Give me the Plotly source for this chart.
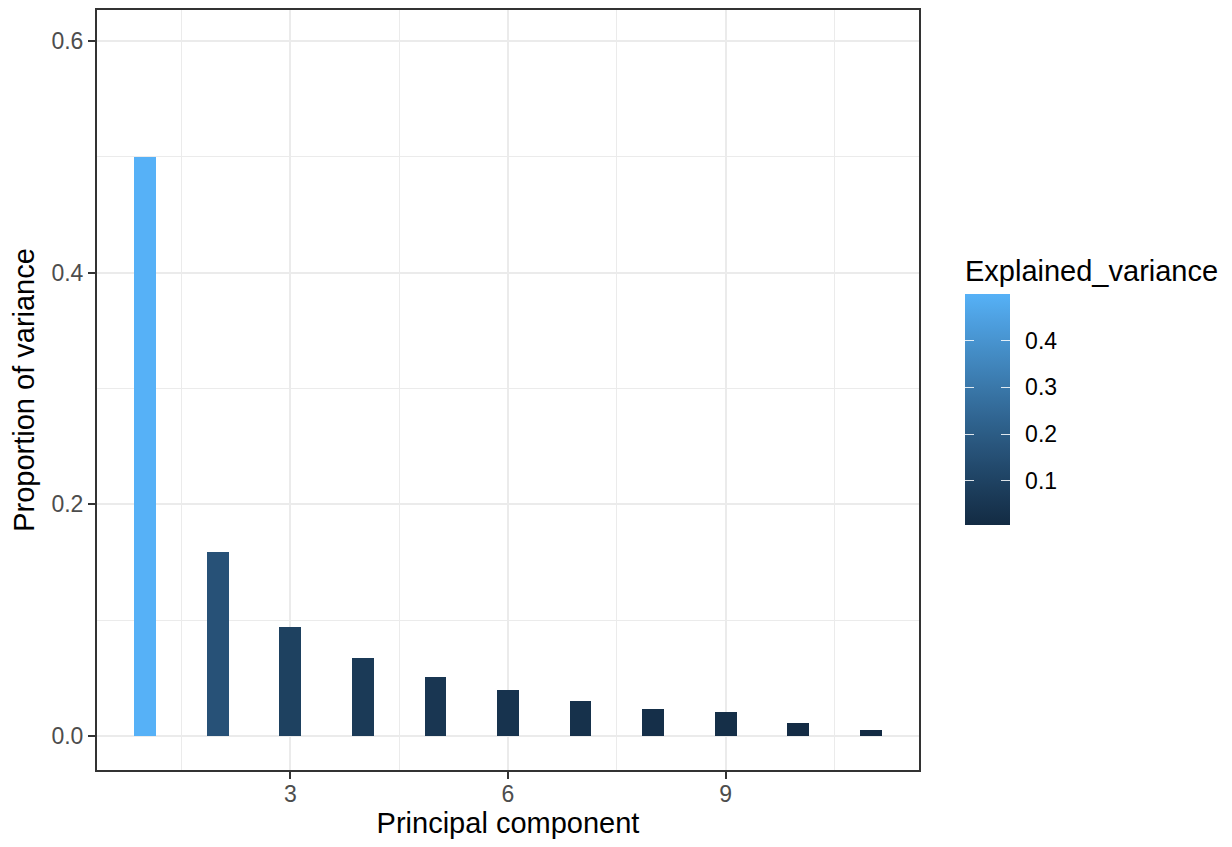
import numpy as np
import plotly.graph_objects as go

# ---- data ----
components = [1, 2, 3, 4, 5, 6, 7, 8, 9, 10, 11]
explained_variance = [0.500, 0.159, 0.094, 0.067, 0.051, 0.040, 0.030, 0.023, 0.021, 0.011, 0.005]
x_ticks = [3, 6, 9]
y_ticks = [0.0, 0.2, 0.4, 0.6]
cbar_ticks = [0.1, 0.2, 0.3, 0.4]

# ---- ggplot2 default continuous gradient (#132B43 -> #56B1F7, Lab interpolation) ----
def _srgb_to_lin(c):
    c = np.asarray(c, float)
    return np.where(c <= 0.04045, c / 12.92, ((c + 0.055) / 1.055) ** 2.4)

def _lin_to_srgb(c):
    c = np.clip(c, 0, 1)
    return np.where(c <= 0.0031308, 12.92 * c, 1.055 * c ** (1 / 2.4) - 0.055)

M = np.array([[0.4124, 0.3576, 0.1805], [0.2126, 0.7152, 0.0722], [0.0193, 0.1192, 0.9505]])
Minv = np.linalg.inv(M)
WHITE = np.array([0.95047, 1.0, 1.08883])

def _f(t):
    d = 6 / 29
    return np.where(t > d ** 3, np.cbrt(t), t / (3 * d * d) + 4 / 29)

def _finv(t):
    d = 6 / 29
    return np.where(t > d, t ** 3, 3 * d * d * (t - 4 / 29))

def hex_to_lab(h):
    rgb = np.array([int(h[i:i + 2], 16) / 255 for i in (1, 3, 5)])
    xyz = M @ _srgb_to_lin(rgb) / WHITE
    fx, fy, fz = _f(xyz)
    return np.array([116 * fy - 16, 500 * (fx - fy), 200 * (fy - fz)])

def lab_to_hex(lab):
    L, a, b = lab
    fy = (L + 16) / 116
    fx = fy + a / 500
    fz = fy - b / 200
    xyz = _finv(np.array([fx, fy, fz])) * WHITE
    rgb = _lin_to_srgb(Minv @ xyz)
    return "#%02x%02x%02x" % tuple(int(round(v * 255)) for v in rgb)

lo, hi = hex_to_lab("#132B43"), hex_to_lab("#56B1F7")
colorscale = [[t, lab_to_hex(lo + (hi - lo) * t)] for t in np.linspace(0, 1, 21)]

FONT = "Liberation Sans, Arial, Helvetica, sans-serif"
GRID = "#EBEBEB"
CMIN, CMAX = min(explained_variance), max(explained_variance)

# layout geometry (pixels, in screen coordinates); the page body adds an 8px offset
OFF = 8
W, H = 1232 - OFF, 847 - OFF
PANEL_L, PANEL_R, PANEL_T, PANEL_B = 97, 919, 10, 770
ML, MT = PANEL_L - OFF, PANEL_T - OFF
MR = W - (PANEL_R - OFF)
MB = H - (PANEL_B - OFF)
PW, PH = W - ML - MR, H - MT - MB
def px_x(px):
    return (px - PANEL_L) / PW
def px_y(py):
    return 1 - (py - PANEL_T) / PH

CB_X = px_x(965)
CB_Y = px_y(294)
CB_LEN = 231

def cbar(thickness, **kw):
    base = dict(
        thickness=thickness, thicknessmode="pixels",
        len=CB_LEN, lenmode="pixels",
        x=CB_X, xanchor="left", y=CB_Y, yanchor="top",
        xpad=0, ypad=0, outlinewidth=0,
        tickmode="array", tickvals=cbar_ticks,
    )
    base.update(kw)
    return base

fig = go.Figure()
fig.add_trace(go.Bar(
    x=components,
    y=explained_variance,
    width=0.3,
    marker=dict(
        color=explained_variance,
        colorscale=colorscale, cmin=CMIN, cmax=CMAX,
        line=dict(width=0),
        colorbar=cbar(
            45,
            ticktext=[f"{v:.1f}" for v in cbar_ticks],
            ticks="outside", ticklen=11, tickwidth=1, tickcolor="rgba(0,0,0,0)",
            tickfont=dict(family=FONT, size=23, color="black"),
        ),
    ),
    showlegend=False,
))

# overlay colour bars (same scale) that only add the white inside tick marks on both edges
for thick in (45, 9):
    fig.add_trace(go.Scatter(
        x=components, y=explained_variance, mode="markers",
        marker=dict(color=explained_variance, colorscale=colorscale, cmin=CMIN, cmax=CMAX,
                    opacity=0, size=1, showscale=True,
                    colorbar=cbar(thick, ticks="inside", ticklen=9, tickwidth=1.2,
                                  tickcolor="rgba(255,255,255,0.85)", showticklabels=False)),
        hoverinfo="skip", showlegend=False,
    ))

fig.add_annotation(
    text="Explained_variance", xref="paper", yref="paper",
    x=px_x(963), y=px_y(271), xanchor="left", yanchor="middle",
    showarrow=False, font=dict(family=FONT, size=29, color="black"),
)

fig.update_layout(
    width=W, height=H,
    margin=dict(l=ML, r=MR, t=MT, b=MB, autoexpand=False),
    paper_bgcolor="white",
    plot_bgcolor="white",
    font=dict(family=FONT),
    bargap=0,
)

fig.update_xaxes(
    range=[0.335, 11.665],
    tickmode="array", tickvals=x_ticks,
    ticktext=[str(v) for v in x_ticks],
    showgrid=True, gridcolor=GRID, gridwidth=2.2,
    minor=dict(tickmode="array", tickvals=[1.5, 4.5, 7.5, 10.5],
               showgrid=True, gridcolor=GRID, gridwidth=1.2, ticks=""),
    zeroline=False, automargin=False,
    showline=True, mirror=True, linecolor="#333333", linewidth=2,
    ticks="outside", ticklen=7, tickwidth=2, tickcolor="#333333",
    tickfont=dict(family=FONT, size=23, color="#4D4D4D"),
    ticklabelstandoff=-5,
    title=dict(text="Principal component", font=dict(family=FONT, size=29, color="black"),
               standoff=4),
)

fig.update_yaxes(
    range=[-0.0294, 0.6268],
    tickmode="array", tickvals=y_ticks,
    ticktext=[f"{v:.1f}" for v in y_ticks],
    showgrid=True, gridcolor=GRID, gridwidth=2.2,
    minor=dict(tickmode="array", tickvals=[0.1, 0.3, 0.5],
               showgrid=True, gridcolor=GRID, gridwidth=1.2, ticks=""),
    zeroline=False, automargin=False,
    showline=True, mirror=True, linecolor="#333333", linewidth=2,
    ticks="outside", ticklen=7, tickwidth=2, tickcolor="#333333",
    tickfont=dict(family=FONT, size=23, color="#4D4D4D"),
    ticklabelstandoff=0,
    title=dict(text="Proportion of variance", font=dict(family=FONT, size=29, color="black"),
               standoff=12),
)

fig.write_html("out.html")
